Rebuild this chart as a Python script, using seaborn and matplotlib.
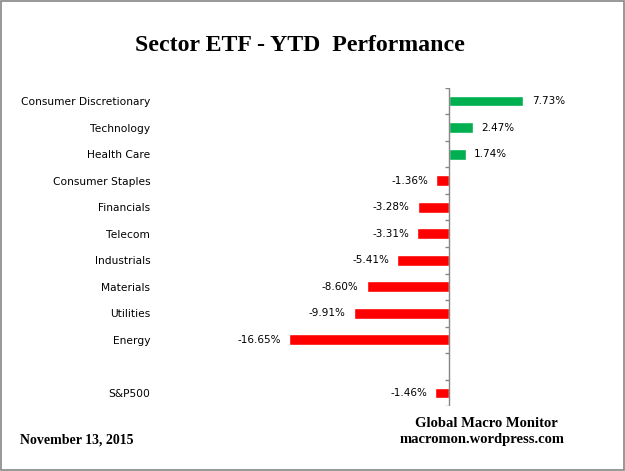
import numpy as np
import pandas as pd
import matplotlib
matplotlib.use("Agg")
import matplotlib.pyplot as plt
import seaborn as sns
from matplotlib.patches import Rectangle

# --- data ---
sectors = ["Consumer Discretionary", "Technology", "Health Care", "Consumer Staples",
           "Financials", "Telecom", "Industrials", "Materials", "Utilities", "Energy",
           "S&P500"]
ytd = [7.73, 2.47, 1.74, -1.36, -3.28, -3.31, -5.41, -8.60, -9.91, -16.65, -1.46]
# blank slot between Energy and S&P500
order = sectors[:10] + [" "] + ["S&P500"]

df = pd.DataFrame({"sector": sectors, "ytd": ytd})
df["sign"] = np.where(df["ytd"] >= 0, "pos", "neg")

sns.set_theme(style="white")
plt.rcParams["font.family"] = ["DejaVu Sans"]
plt.rcParams["text.color"] = "black"

fig = plt.figure(figsize=(6.25, 4.71), dpi=100)
fig.patch.set_facecolor("white")
ax = fig.add_axes([0.258, 0.1375, 0.7066, 0.6762])

sns.barplot(data=df, x="ytd", y="sector", hue="sign", order=order,
            palette={"pos": "#00B050", "neg": "#FF0000"}, dodge=False, saturation=1,
            width=0.41, legend=False, ax=ax)

ax.set_xlim(-30, 16)
ax.set_ylim(len(order) - 0.5, -0.5)
ax.set_xlabel("")
ax.set_ylabel("")
ax.set_xticks([])
for s in ax.spines.values():
    s.set_visible(False)
ax.tick_params(axis="y", length=0, pad=8, labelsize=7.7, labelcolor="black")

# zero axis with little ticks between categories
ax.axvline(0, color="#868686", lw=1.0)
bounds = np.arange(len(order) + 1) - 0.5
ax.hlines(bounds, -0.42, 0, color="#868686", lw=1.0)

# value labels
ypos = {c: i for i, c in enumerate(order)}
for name, v in zip(sectors, ytd):
    off = 6 if v >= 0 else -6
    ax.annotate(f"{v:.2f}%", (v, ypos[name]), xytext=(off, 0), textcoords="offset points",
                ha="left" if v >= 0 else "right", va="center", fontsize=7.5, color="black")

serif = ["Liberation Serif", "DejaVu Serif"]
fig.text(0.48, 0.903, "Sector ETF - YTD  Performance", ha="center", va="center",
         fontsize=17.2, fontweight="bold", family=serif, color="black")
fig.text(0.778, 0.101, "Global Macro Monitor", ha="center", va="center",
         fontsize=10.5, fontweight="bold", family=serif, color="black")
fig.text(0.772, 0.066, "macromon.wordpress.com", ha="center", va="center",
         fontsize=10.5, fontweight="bold", family=serif, color="black")
fig.text(0.032, 0.066, "November 13, 2015", ha="left", va="center",
         fontsize=10, fontweight="bold", family=serif, color="black")

# frame around the whole chart
fig.patches.append(Rectangle((0.001, 0.002), 0.997, 0.996, transform=fig.transFigure,
                             fill=False, edgecolor="#868686", lw=1.2))

fig.savefig("out.png", dpi=100)
